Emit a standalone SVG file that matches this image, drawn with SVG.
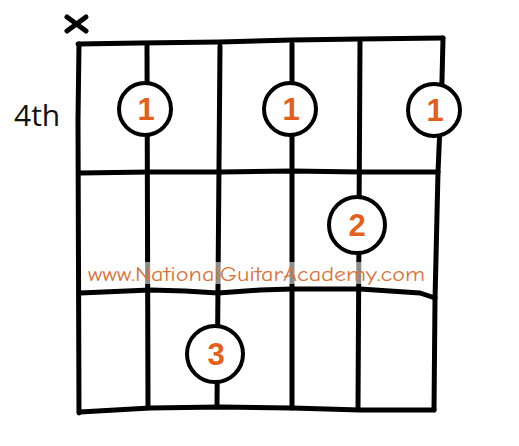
<svg xmlns="http://www.w3.org/2000/svg" width="519" height="446" viewBox="0 0 519 446">
<style>
.ln{fill:none;stroke:#000;stroke-width:5;stroke-linecap:round;stroke-linejoin:round}
.dot circle{fill:#fff;stroke:#000;stroke-width:4}
.dot text{font-family:"Liberation Sans",Arial,sans-serif;font-size:31px;font-weight:bold;fill:#e2601c;text-anchor:middle}
</style>
<rect width="519" height="446" fill="#fff"/>
<g id="connectors">
<path class="ln" d="M78,44 L140,43 L220,42 L292,40 L360,39 L443,38"/>
<path class="ln" d="M79,44 L78,120 L79,413"/>
<path class="ln" d="M443,38 L442,80 L438,172 L435,300 L434,410"/>
<path class="ln" d="M80,412 L150,408 L220,407 L292,408 L360,410 L434,410"/>
<path class="ln" d="M80,173 L150,172 L220,172 L292,171 L360,172 L438,172"/>
<path class="ln" d="M80,293 L150,290 L185,291 L218,293 L260,290 L292,289 L360,289 L420,293 L435,298"/>
<path class="ln" d="M147,46 L148,408"/>
<path class="ln" d="M220,46 L217,407"/>
<path class="ln" d="M292,44 L292,408"/>
<path class="ln" d="M360,42 L358,409"/>
</g>
<rect x="86" y="262" width="340" height="22" fill="#fff" opacity="0.55"/>
<text x="88" y="281" font-family="'Comic Neue','Liberation Sans',sans-serif" font-size="20.5" fill="#d8733a" textLength="337" lengthAdjust="spacingAndGlyphs">www.NationalGuitarAcademy.com</text>
<g id="label-4th"><text x="14" y="126" font-family="'Open Sans','Liberation Sans',sans-serif" font-size="30" fill="#111">4th</text></g>
<g id="mute-x"><path class="ln" d="M67,17 L86,31 M86,17 L67,31" stroke-width="4.5"/></g>
<g id="finger1a" class="dot"><circle cx="145" cy="109" r="26"/><text x="146" y="120">1</text></g>
<g id="finger1b" class="dot"><circle cx="290" cy="109" r="26"/><text x="291" y="120">1</text></g>
<g id="finger1c" class="dot"><circle cx="434" cy="110" r="26"/><text x="435" y="121">1</text></g>
<g id="finger2" class="dot"><circle cx="357" cy="225" r="28" /><text x="357" y="236">2</text></g>
<g id="finger3" class="dot"><circle cx="215" cy="354" r="28"/><text x="216" y="365">3</text></g>
</svg>
